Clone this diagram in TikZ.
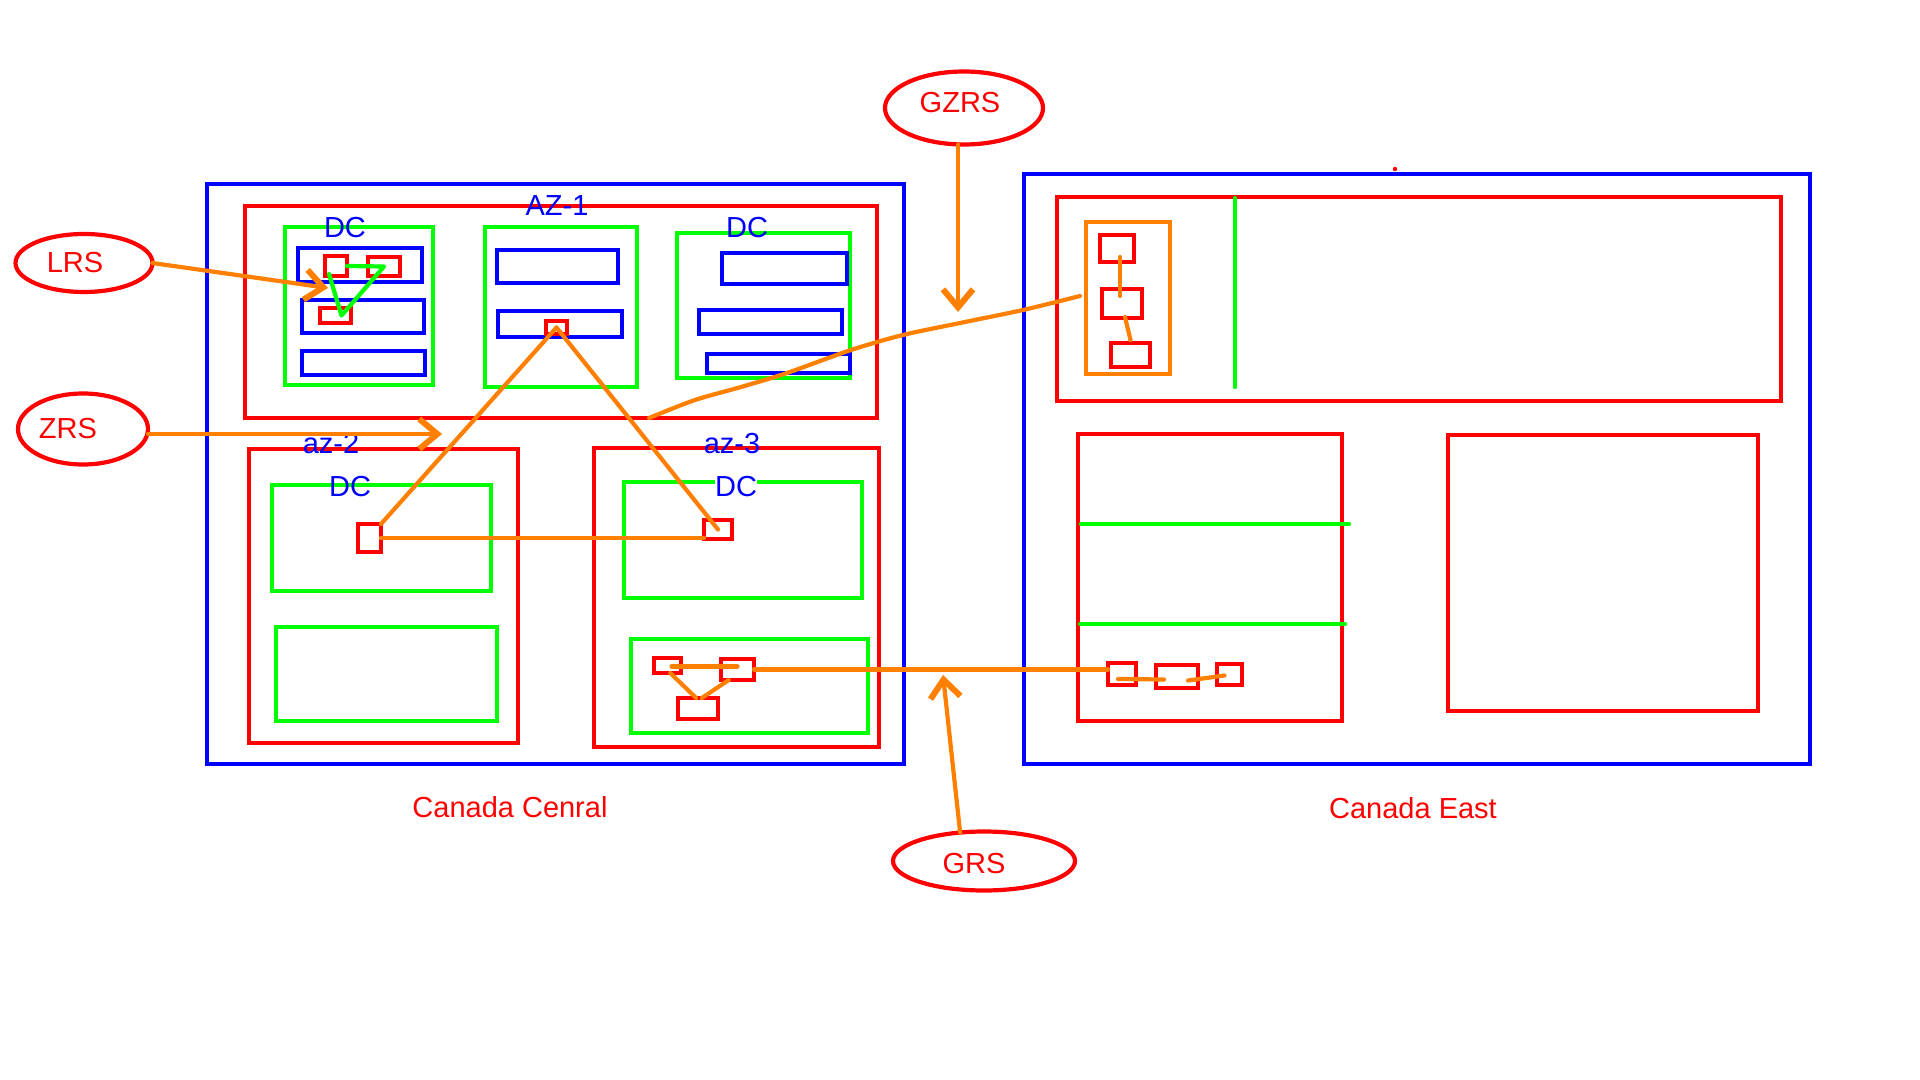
\documentclass[tikz,border=0pt]{standalone}
\usepackage{fontspec}
\setmainfont{Liberation Sans}
\usetikzlibrary{shapes.geometric,arrows.meta,calc}
\definecolor{cblue}{HTML}{0000FF}
\definecolor{cred}{HTML}{FF0000}
\definecolor{cgreen}{HTML}{00FF00}
\definecolor{corange}{HTML}{FF8000}
\newcommand\pbox[6]{%
  \pgfmathsetmacro\pbw{((#5)-(#3))*0.5}%
  \pgfmathsetmacro\pbh{((#6)-(#4))*0.5}%
  \node[#2, minimum width=\pbw pt, minimum height=\pbh pt] (#1) at ({((#3)+(#5))/2},{((#4)+(#6))/2}) {};}
\begin{document}
\begin{tikzpicture}[x=0.5pt,y=-0.5pt,
  base/.style={rectangle, inner sep=0pt, outer sep=0pt},
  bb/.style={base, draw=cblue, line width=2.4pt},
  rb/.style={base, draw=cred, line width=2.1pt},
  gb/.style={base, draw=cgreen, line width=2.1pt},
  ob/.style={base, draw=corange, line width=2.1pt},
  ell/.style={ellipse, draw=cred, line width=2.1pt, inner sep=0pt, outer sep=0pt},
  txt/.style={font=\fontsize{14.5pt}{17pt}\selectfont, inner sep=0pt, text height=10.4pt, text depth=0pt, anchor=center},
  btxt/.style={txt, text=cblue},
  rtxt/.style={txt, text=cred},
  oline/.style={draw=corange, line width=2.1pt, line cap=round, line join=round},
  gline/.style={draw=cgreen, line width=2.1pt, line cap=round, line join=round},
  oarrow/.style={oline, -{Straight Barb[length=9pt,width=15pt,line width=3pt]}}
]
\useasboundingbox (0,0) rectangle (1920,1080);

% Canada Central
\pbox{cc}{bb}{207}{184}{904}{764}
\pbox{az1}{rb}{245}{206}{877}{418}
\pbox{dcL}{gb}{285}{227}{433}{385}
\pbox{bL1}{bb}{298}{248}{422}{282}
\pbox{bL2}{bb}{302}{300}{424}{333}
\pbox{bL3}{bb}{302}{351}{425}{375}
\pbox{sq1}{rb}{325}{256}{347}{276}
\pbox{sq2}{rb}{368}{257}{400}{276}
\pbox{sq3}{rb}{320}{308}{351}{323}
\pbox{dcM}{gb}{485}{227}{637}{387}
\pbox{bM1}{bb}{497}{250}{618}{283}
\pbox{bM2}{bb}{498}{311}{622}{337}
\pbox{az1sq}{rb}{546}{321}{567}{334}
\pbox{dcR}{gb}{677}{233}{850}{378}
\pbox{bR1}{bb}{722}{253}{847}{284}
\pbox{bR2}{bb}{699}{310}{842}{334}
\pbox{bR3}{bb}{707}{354}{850}{373}
\pbox{az2}{rb}{249}{449}{518}{743}
\pbox{dcTwoA}{gb}{272}{485}{491}{591}
\pbox{dcTwoB}{gb}{276}{627}{497}{721}
\pbox{az2sq}{rb}{358}{524}{381}{552}
\pbox{az3}{rb}{594}{448}{879}{747}
\pbox{dcThreeA}{gb}{624}{482}{862}{598}
\pbox{az3sq}{rb}{704}{520}{732}{539}
\pbox{dcThreeB}{gb}{631}{639}{868}{733}
\pbox{a3A}{rb}{654}{658}{681}{673}
\pbox{a3B}{rb}{721}{659}{754}{680}
\pbox{a3C}{rb}{678}{698}{718}{719}

% Canada East
\pbox{ce}{bb}{1024}{174}{1810}{764}
\pbox{ceTop}{rb}{1057}{197}{1781}{401}
\pbox{ceOr}{ob}{1086}{222}{1170}{374}
\pbox{t1}{rb}{1100}{235}{1134}{262}
\pbox{t2}{rb}{1102}{289}{1142}{318}
\pbox{t3}{rb}{1111}{343}{1150}{367}
\pbox{ceBL}{rb}{1078}{434}{1342}{721}
\pbox{ce1}{rb}{1108}{663}{1136}{685}
\pbox{ce2}{rb}{1156}{665}{1198}{688}
\pbox{ce3}{rb}{1217}{664}{1242}{685}
\pbox{ceBR}{rb}{1448}{435}{1758}{711}
\fill[cred] (1395,169) circle[radius=1.1pt];

% green dividers in Canada East
\draw[gline] (1235,198) -- (1235,387);
\draw[gline] (1081,524) -- (1349,524);
\draw[gline] (1080,624) -- (1345,624);

% labels
\node[btxt] (lAZ1) at (557,205) {AZ-1};
\node[btxt] (lDCL) at (345,227) {DC};
\node[btxt] (lDCR) at (747,227) {DC};
\node[btxt] (laz2) at (331,443) {az-2};
\node[btxt] (laz3) at (732,443) {az-3};
\node[btxt] (lDC2) at (350,486) {DC};
\node[btxt, fill=white] (lDC3) at (736,486) {DC};
\node[rtxt] (lCC) at (510,807) {Canada Cenral};
\node[rtxt] (lCE) at (1413,808) {Canada East};

% ellipses
\node[ell, minimum width=68.5pt, minimum height=29pt] (lrs) at (84,263) {};
\node[rtxt] (lrsT) at (75,262) {LRS};
\node[ell, minimum width=65pt, minimum height=35.5pt] (zrs) at (83,429) {};
\node[rtxt] (zrsT) at (68,428) {ZRS};
\node[ell, minimum width=79pt, minimum height=36.5pt] (gzrs) at (964,108) {};
\node[rtxt] (gzrsT) at (960,102) {GZRS};
\node[ell, minimum width=91pt, minimum height=29.5pt] (grs) at (984,861) {};
\node[rtxt] (grsT) at (974,863) {GRS};

% free ends
\coordinate (lrsEnd) at (328,288);
\coordinate (zrsEnd) at (442,434);
\coordinate (gzrsEnd) at (958,312);
\coordinate (grsEnd) at (943,675);
\coordinate (gzStart) at (649,418);
\coordinate (gzEnd) at (1080,296);
\coordinate (hA) at ($(a3A.center)+(4,1)$);

% green links in left DC
\draw[gline] (sq1.east) -- (sq2.center) -- ($(sq3.center)+(6,0)$) -- ($(sq1.south)+(-7,-2)$);

% orange links
\draw[oline] (az2sq.north east) -- (az1sq.center);
\draw[oline] (az1sq.center) -- (az3sq.center);
\draw[oline] (az2sq.east) -- (az2sq.east -| az3sq.west);
\draw[oline] (hA) -- (hA -| a3B.center);
\draw[oline] (a3A.-70) -- (a3C.100);
\draw[oline] (a3B.-130) -- (a3C.70);
\draw[oline] (a3B.east) -- (a3B.east -| ce1.west);
\draw[oline] ($(ce1.center)+(-4,5)$) -- ($(ce2.center)+(-13,3)$);
\draw[oline] ($(ce2.center)+(11,4)$) -- ($(ce3.center)+(-5,1)$);
\draw[oline] ($(t1.south)+(3,-5)$) -- ($(t2.north)+(-2,7)$);
\draw[oline] ($(t2.south)+(3,-1)$) -- ($(t3.north)+(0,-3)$);
\draw[oline] plot[smooth, tension=0.5] coordinates {(gzStart) (695,400) (741,387) (787,373) (851,350) (903,335) (960,323) (1023,310) (gzEnd)};

% arrows
\draw[oarrow] (lrs.east) -- (lrsEnd);
\draw[oarrow] (zrs.east |- zrsEnd) -- (zrsEnd);
\draw[oarrow] (gzrsEnd |- gzrs.south) -- (gzrsEnd);
\draw[oarrow] (grs.130) -- (grsEnd);
\end{tikzpicture}
\end{document}
